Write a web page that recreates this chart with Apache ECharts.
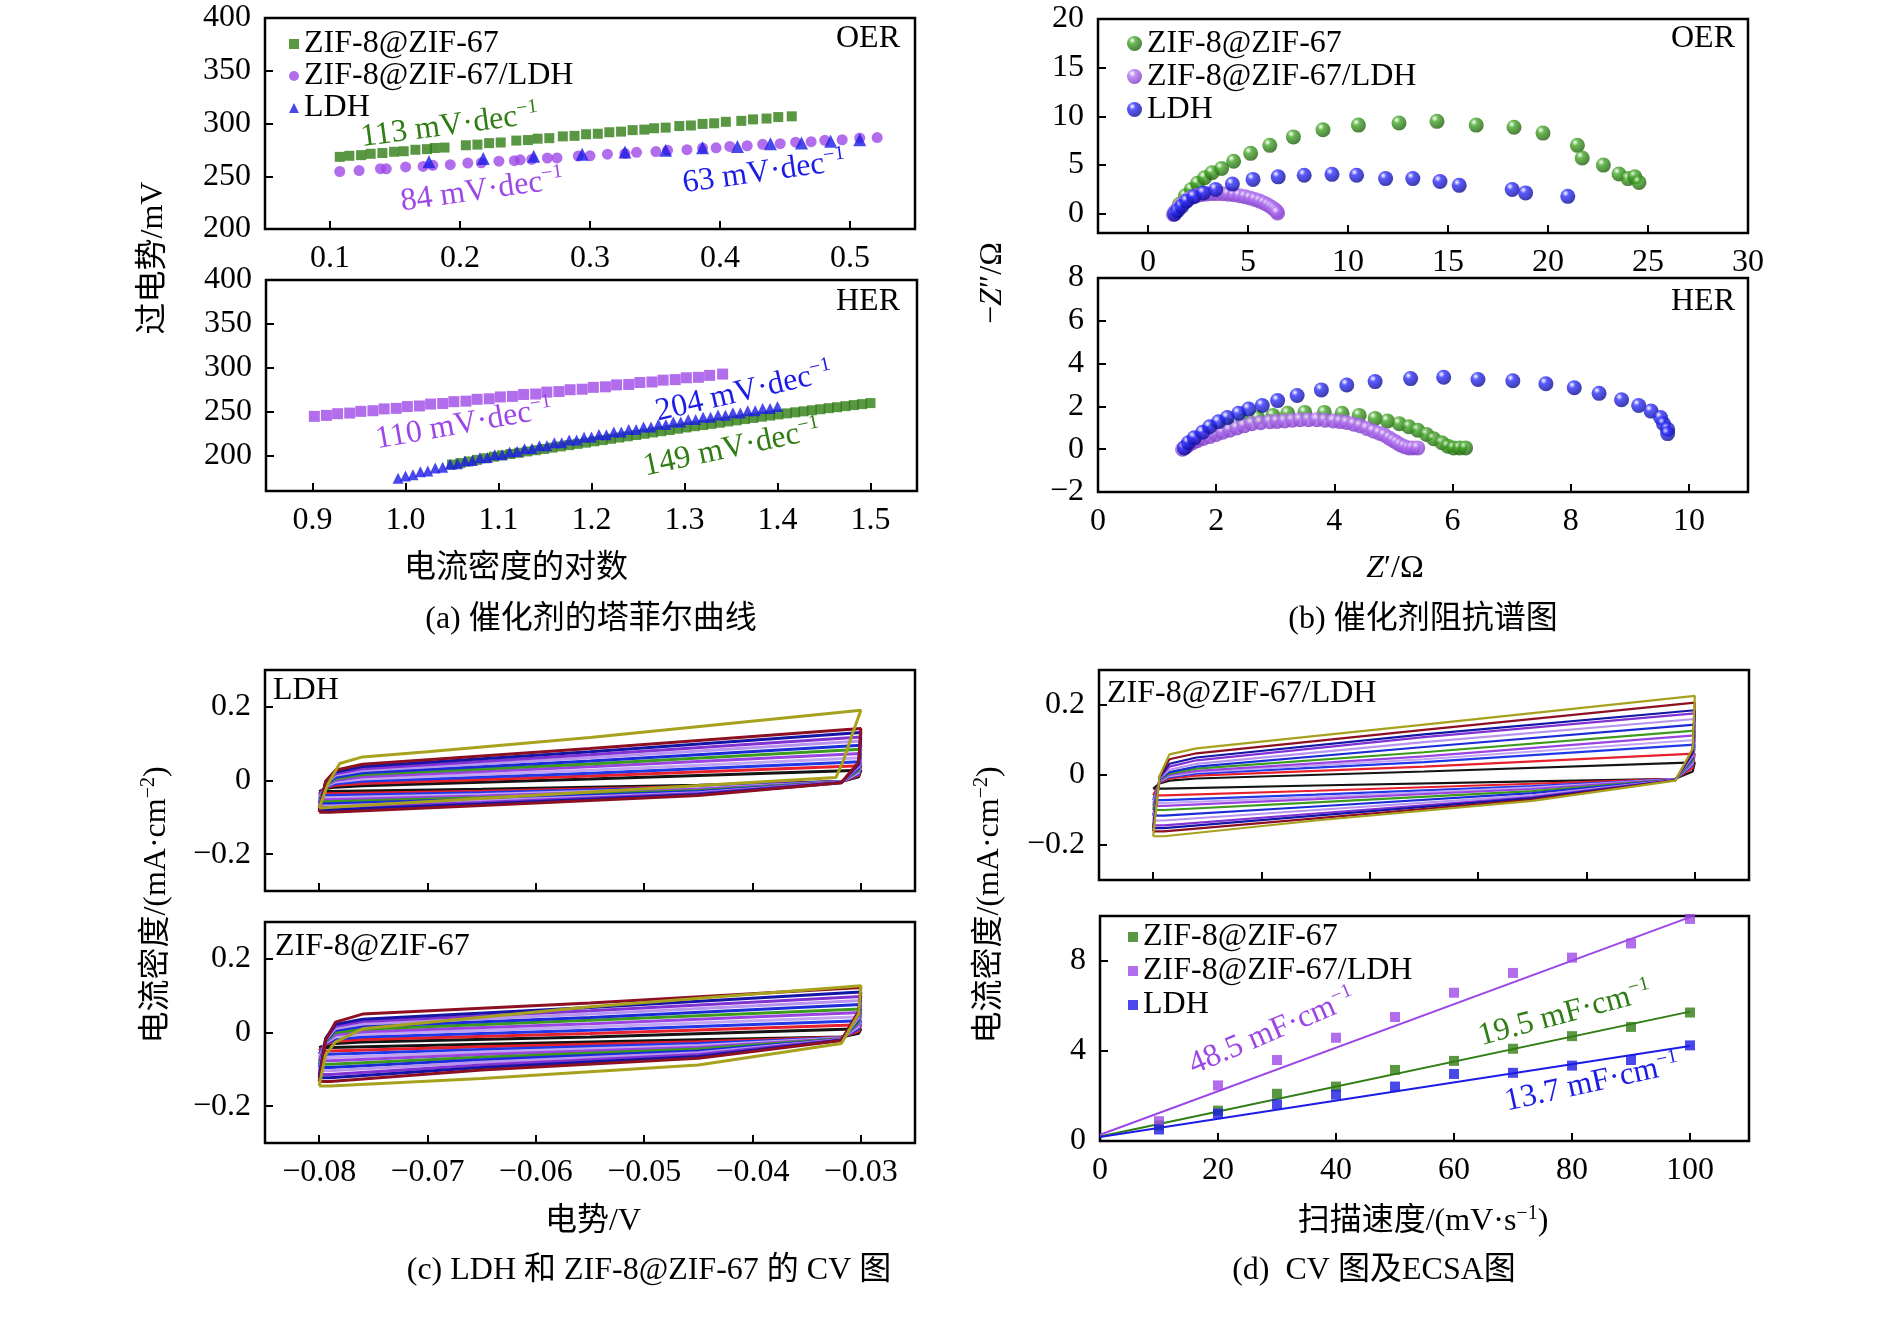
<!DOCTYPE html>
<html lang="zh">
<head>
<meta charset="UTF-8" />
<title>催化剂性能</title>
<style>
html, body { margin: 0; padding: 0; background: #fff; }
#main { width: 1890px; height: 1329px; }
</style>
</head>
<body>
<div id="main"></div>
<script src="https://cdn.jsdelivr.net/npm/echarts@6.0.0/dist/echarts.min.js"></script>
<script>
// ---- (a) 塔菲尔曲线 OER
var oerZifX = [0.1075,0.1149,0.1239,0.1313,0.1403,0.1493,0.1567,0.1657,0.1746,0.1806,0.1881,0.2045,0.2134,0.2224,0.2313,0.2433,0.2522,0.2597,0.2687,0.2791,0.2881,0.2970,0.3060,0.3149,0.3239,0.3328,0.3418,0.3493,0.3582,0.3687,0.3776,0.3866,0.3955,0.4045,0.4164,0.4254,0.4358,0.4448,0.4552];
var oerZifY = [268.4,269.4,270.0,271.3,272.0,273.2,273.7,275.1,275.7,276.8,277.2,279.4,280.0,281.4,282.0,283.8,284.3,285.6,286.1,287.8,288.3,289.8,290.3,291.7,292.3,293.7,294.2,295.5,296.1,297.6,298.1,299.6,300.2,301.6,302.5,303.9,304.7,306.1,306.8];
var oerHybX = [0.1075,0.1224,0.1388,0.1433,0.1582,0.1716,0.1791,0.1925,0.2060,0.2164,0.2299,0.2418,0.2463,0.2552,0.2672,0.2746,0.2910,0.3000,0.3134,0.3269,0.3358,0.3507,0.3597,0.3746,0.3866,0.3970,0.4075,0.4209,0.4328,0.4463,0.4582,0.4701,0.4806,0.4940,0.5075,0.5209];
var oerHybY = [254.5,255.4,257.2,257.0,258.8,259.3,260.4,261.0,262.5,262.8,264.3,264.8,265.6,265.9,267.3,267.4,269.2,269.4,270.9,271.5,272.7,273.4,274.6,275.2,276.7,277.0,278.3,278.9,280.3,280.9,282.3,282.8,284.1,284.6,286.2,286.7];
var oerLdhX = [0.1761,0.2179,0.2567,0.2940,0.3269,0.3582,0.3866,0.4134,0.4388,0.4627,0.4851,0.5075];
var oerLdhY = [263.8,266.9,269.0,270.9,273.0,274.6,277.1,278.3,280.8,281.4,283.2,284.5];

// ---- (a) 塔菲尔曲线 HER
var herHybX = [0.902,0.915,0.927,0.940,0.952,0.965,0.977,0.990,1.002,1.015,1.027,1.040,1.052,1.065,1.077,1.090,1.102,1.115,1.127,1.140,1.152,1.165,1.177,1.190,1.202,1.215,1.227,1.240,1.252,1.265,1.277,1.290,1.302,1.315,1.327,1.341];
var herHybY = [244.9,246.0,247.9,248.6,250.6,251.3,253.4,254.0,256.0,256.7,258.9,259.5,261.6,262.2,264.3,264.9,267.0,267.6,269.8,270.3,272.5,273.1,275.2,275.8,277.9,278.5,280.7,281.2,283.4,284.0,286.1,286.7,288.8,289.3,291.5,293.0];
var herLdhX = [0.992,1.000,1.008,1.016,1.024,1.032,1.040,1.048,1.056,1.064,1.072,1.080,1.088,1.096,1.104,1.112,1.120,1.128,1.136,1.144,1.152,1.160,1.168,1.176,1.184,1.192,1.200,1.208,1.216,1.224,1.232,1.240,1.248,1.256,1.264,1.272,1.280,1.288,1.296,1.304,1.312,1.320,1.328,1.336,1.344,1.352,1.360,1.368,1.376,1.384,1.392,1.400];
var herLdhY = [174.5,177.2,178.6,181.9,182.8,186.3,187.0,190.4,191.0,194.1,194.6,197.9,198.1,201.3,201.2,204.4,204.8,208.0,208.2,211.5,211.6,214.9,214.9,218.1,218.1,221.2,221.3,224.2,224.1,227.1,227.0,230.0,230.0,232.9,232.8,235.8,235.7,238.6,238.5,241.4,241.2,243.9,243.8,246.5,246.3,249.0,248.8,251.4,251.3,253.8,253.7,256.0];
var herZifX = [1.050,1.059,1.068,1.077,1.086,1.095,1.104,1.113,1.122,1.131,1.140,1.149,1.158,1.167,1.176,1.185,1.194,1.203,1.212,1.221,1.230,1.239,1.248,1.257,1.266,1.275,1.284,1.293,1.302,1.311,1.320,1.329,1.338,1.347,1.356,1.365,1.374,1.383,1.392,1.401,1.410,1.419,1.428,1.437,1.446,1.455,1.464,1.473,1.482,1.491,1.500];
var herZifY = [190.0,191.8,193.6,195.4,197.2,199.0,200.6,202.1,203.5,205.0,206.4,207.8,209.3,210.7,212.2,213.6,215.0,216.5,217.9,219.4,220.8,222.2,223.7,225.1,226.6,228.0,229.4,230.9,232.3,233.7,235.0,236.4,237.7,239.1,240.4,241.8,243.1,244.5,245.8,247.1,248.3,249.5,250.6,251.8,253.0,254.2,255.3,256.5,257.7,258.8,260.0];

// ---- (b) 阻抗谱 OER
var nyoZifX = [1.33,1.57,1.87,2.17,2.47,2.83,3.20,3.68,4.28,5.13,6.09,7.27,8.75,10.52,12.55,14.45,16.41,18.30,19.75,21.47,21.71,22.77,23.55,24.00,24.34,24.55];
var nyoZifY = [0.09,0.95,1.82,2.47,3.12,3.68,4.20,4.63,5.37,6.19,7.01,7.88,8.61,9.09,9.31,9.48,9.09,8.87,8.27,7.01,5.71,4.98,4.07,3.59,3.77,3.20];
var nyoHybX = [1.27,1.40,1.55,1.72,1.88,2.05,2.25,2.45,2.68,2.92,3.18,3.45,3.74,4.02,4.30,4.58,4.85,5.10,5.35,5.58,5.80,6.00,6.17,6.31,6.42,6.48];
var nyoHybY = [-0.10,0.30,0.65,1.00,1.28,1.52,1.72,1.86,1.96,2.02,2.05,2.05,2.03,1.99,1.93,1.84,1.73,1.60,1.45,1.28,1.09,0.88,0.66,0.45,0.25,0.05];
var nyoLdhX = [1.33,1.48,1.69,1.93,2.29,2.77,3.38,4.22,5.25,6.51,7.81,9.20,10.43,11.88,13.24,14.60,15.56,18.21,18.88,20.99];
var nyoLdhY = [-0.04,0.30,0.74,1.26,1.73,2.12,2.47,3.03,3.51,3.77,3.94,4.03,3.94,3.59,3.59,3.29,2.90,2.47,2.12,1.77];

// ---- (b) 阻抗谱 HER
var nyhZifX = [1.48,1.68,1.94,2.19,2.45,2.70,2.96,3.21,3.50,3.83,4.13,4.42,4.69,4.90,5.10,5.26,5.41,5.56,5.68,5.82,5.92,6.02,6.12,6.22];
var nyhZifY = [0.10,0.49,0.85,1.13,1.32,1.48,1.58,1.68,1.72,1.72,1.68,1.58,1.44,1.32,1.19,1.05,0.89,0.69,0.49,0.30,0.14,0.06,0.06,0.06];
var nyhHybX = [1.43,1.48,1.53,1.60,1.68,1.78,1.89,2.00,2.11,2.23,2.35,2.47,2.60,2.75,2.91,3.03,3.16,3.29,3.42,3.56,3.70,3.84,3.98,4.10,4.21,4.33,4.44,4.55,4.66,4.76,4.85,4.93,5.00,5.06,5.12,5.19,5.26,5.33,5.41];
var nyhHybY = [0.00,0.10,0.20,0.30,0.40,0.50,0.59,0.69,0.79,0.89,0.99,1.09,1.19,1.24,1.28,1.30,1.32,1.35,1.38,1.38,1.38,1.35,1.32,1.29,1.25,1.17,1.09,0.97,0.85,0.75,0.65,0.52,0.40,0.30,0.20,0.12,0.06,0.06,0.06];
var nyhLdhX = [1.46,1.53,1.63,1.77,1.89,2.04,2.19,2.38,2.55,2.78,3.04,3.37,3.78,4.21,4.69,5.29,5.85,6.43,7.02,7.58,8.06,8.48,8.86,9.15,9.36,9.52,9.57,9.64,9.64];
var nyhLdhY = [0.06,0.30,0.53,0.79,1.05,1.28,1.48,1.68,1.88,2.04,2.27,2.51,2.77,3.00,3.16,3.30,3.36,3.26,3.20,3.06,2.87,2.61,2.31,2.04,1.78,1.48,1.19,0.93,0.73];

// ---- (c)(d) CV 曲线：每条回线按同一组电势顶点取值
var cvX = [-0.0800,-0.0794,-0.0785,-0.0760,-0.0550,-0.0300,-0.0302,-0.0318,-0.0450,-0.0650,-0.0790,-0.0800];
var cvColors = ['#141414','#e8202c','#2038e8','#c2a4f2','#9a44e2','#3c9a1c','#1a2cd8','#b894ee','#8232d2','#1414a6','#8c1022','#a6a21e'];
var ldhLoops = [
  [-0.030,-0.022,-0.018,-0.014,0.004,0.028,0.010,-0.003,-0.013,-0.024,-0.030,-0.030],
  [-0.036,-0.020,-0.013,-0.008,0.012,0.040,0.014,-0.003,-0.016,-0.029,-0.036,-0.036],
  [-0.041,-0.018,-0.009,-0.002,0.020,0.051,0.018,-0.003,-0.018,-0.033,-0.041,-0.041],
  [-0.047,-0.016,-0.004,0.004,0.028,0.062,0.022,-0.004,-0.021,-0.038,-0.047,-0.047],
  [-0.052,-0.014,0.000,0.010,0.037,0.073,0.026,-0.004,-0.024,-0.042,-0.052,-0.052],
  [-0.058,-0.012,0.005,0.016,0.045,0.085,0.030,-0.004,-0.027,-0.047,-0.058,-0.058],
  [-0.063,-0.010,0.009,0.021,0.053,0.096,0.034,-0.005,-0.030,-0.051,-0.063,-0.063],
  [-0.069,-0.008,0.014,0.027,0.062,0.107,0.038,-0.005,-0.033,-0.055,-0.069,-0.069],
  [-0.074,-0.006,0.018,0.032,0.070,0.118,0.042,-0.005,-0.035,-0.060,-0.074,-0.074],
  [-0.080,-0.004,0.023,0.038,0.078,0.130,0.046,-0.006,-0.038,-0.064,-0.080,-0.080],
  [-0.086,-0.002,0.028,0.044,0.087,0.141,0.050,-0.006,-0.041,-0.068,-0.086,-0.086]
];
var ldhOliveX = [-0.0800,-0.0792,-0.0781,-0.0760,-0.0700,-0.0550,-0.0300,-0.0308,-0.0316,-0.0323,-0.0430,-0.0600,-0.0750,-0.0800];
var ldhOliveY = [-0.075,-0.010,0.046,0.064,0.078,0.117,0.191,0.125,0.055,0.008,-0.010,-0.040,-0.066,-0.075];
var zifLoops = [
  [-0.041,-0.034,-0.030,-0.026,-0.012,0.010,-0.002,-0.012,-0.020,-0.032,-0.041,-0.041],
  [-0.050,-0.032,-0.024,-0.019,-0.003,0.021,0.004,-0.013,-0.025,-0.039,-0.050,-0.050],
  [-0.059,-0.030,-0.018,-0.012,0.006,0.032,0.010,-0.014,-0.030,-0.046,-0.059,-0.059],
  [-0.068,-0.028,-0.012,-0.005,0.015,0.043,0.016,-0.015,-0.035,-0.053,-0.068,-0.068],
  [-0.077,-0.026,-0.006,0.002,0.024,0.054,0.022,-0.016,-0.040,-0.060,-0.077,-0.077],
  [-0.086,-0.024,0.000,0.009,0.033,0.064,0.028,-0.017,-0.045,-0.067,-0.086,-0.086],
  [-0.095,-0.022,0.006,0.016,0.041,0.076,0.034,-0.018,-0.050,-0.074,-0.095,-0.095],
  [-0.104,-0.020,0.011,0.023,0.050,0.087,0.040,-0.019,-0.055,-0.081,-0.104,-0.104],
  [-0.114,-0.018,0.017,0.030,0.059,0.098,0.046,-0.020,-0.060,-0.088,-0.114,-0.114],
  [-0.123,-0.016,0.022,0.036,0.068,0.110,0.052,-0.021,-0.065,-0.095,-0.123,-0.123],
  [-0.133,-0.020,0.028,0.050,0.080,0.122,0.058,-0.022,-0.070,-0.102,-0.133,-0.133],
  [-0.145,-0.060,-0.026,0.010,0.070,0.127,0.050,-0.030,-0.088,-0.125,-0.145,-0.145]
];
var hybLoops = [
  [-0.039,-0.024,-0.016,-0.010,0.010,0.036,0.010,-0.011,-0.018,-0.030,-0.039,-0.039],
  [-0.058,-0.022,-0.010,-0.002,0.024,0.061,0.020,-0.011,-0.025,-0.045,-0.058,-0.058],
  [-0.072,-0.020,-0.006,0.004,0.037,0.087,0.028,-0.012,-0.032,-0.056,-0.072,-0.072],
  [-0.080,-0.018,-0.003,0.008,0.045,0.100,0.032,-0.012,-0.036,-0.063,-0.080,-0.080],
  [-0.088,-0.016,0.000,0.012,0.053,0.113,0.036,-0.012,-0.040,-0.069,-0.088,-0.088],
  [-0.100,-0.014,0.004,0.018,0.065,0.127,0.042,-0.013,-0.046,-0.078,-0.100,-0.100],
  [-0.116,-0.012,0.008,0.024,0.080,0.144,0.048,-0.013,-0.052,-0.090,-0.116,-0.116],
  [-0.130,-0.010,0.015,0.032,0.094,0.160,0.054,-0.014,-0.058,-0.100,-0.130,-0.130],
  [-0.144,-0.008,0.024,0.042,0.108,0.176,0.060,-0.014,-0.063,-0.110,-0.144,-0.144],
  [-0.152,-0.006,0.032,0.050,0.116,0.185,0.064,-0.015,-0.066,-0.116,-0.152,-0.152],
  [-0.161,-0.004,0.045,0.062,0.129,0.207,0.070,-0.015,-0.070,-0.124,-0.161,-0.161],
  [-0.175,-0.002,0.059,0.076,0.144,0.226,0.076,-0.016,-0.074,-0.130,-0.175,-0.175]
];

// ---- (d) ECSA
var scanRate = [10,20,30,40,50,60,70,80,90,100];
var ecsaZif = [0.69,1.35,2.10,2.42,3.16,3.56,4.10,4.66,5.07,5.71];
var ecsaHyb = [0.88,2.47,3.60,4.59,5.51,6.59,7.47,8.15,8.78,9.87];
var ecsaLdh = [0.51,1.22,1.63,2.06,2.42,2.98,3.03,3.35,3.60,4.25];
var fitX = [0, 100];
var fitZif = [0.20, 5.75];
var fitHyb = [0.28, 9.95];
var fitLdh = [0.18, 4.22];

// ---- 斜率标注
var noteText = ['113 mV·dec','84 mV·dec','63 mV·dec','110 mV·dec','204 mV·dec','149 mV·dec','48.5 mF·cm','19.5 mF·cm','13.7 mF·cm'];
var noteGrid = [0,0,0,1,1,1,7,7,7];
var noteX = [0.192,0.217,0.434,1.063,1.364,1.351,29.2,78.8,83.4];
var noteY = [297.6,236.2,253.5,235.7,272.5,208.4,4.85,5.64,2.57];
var noteAngle = [7.5,8,8,10,13,12,23,15,12.4];

var FONT = "'Liberation Serif','Noto Sans CJK SC',serif";
var GREEN = '#2f7d14', PURPLE = '#9d48e6', BLUE = '#1c1ce6';
var noteColor = [GREEN,PURPLE,BLUE,PURPLE,BLUE,GREEN,PURPLE,GREEN,BLUE];

function pairs(xs, ys) {
  return xs.map(function (x, i) { return [x, ys[i]]; });
}
function minus(d) {
  return function (v) {
    var s = d == null ? String(Math.abs(v)) : Math.abs(v).toFixed(d);
    return (v < 0 ? '−' : '') + s;
  };
}
function ball(c1, c2) {
  return { type: 'radial', x: 0.35, y: 0.3, r: 0.75,
    colorStops: [{ offset: 0, color: '#ffffff' }, { offset: 0.3, color: c1 }, { offset: 1, color: c2 }] };
}
var GBALL = ball('#45a828', '#1d5a0c'), PBALL = ball('#b476f2', '#7a36c2'), BBALL = ball('#3030ff', '#0a0a8c');

function axis(g, min, max, ticks, labels, fmt) {
  return {
    type: 'value', gridIndex: g, min: min, max: max,
    axisLine: { show: false, onZero: false }, splitLine: { show: false },
    axisTick: { show: true, inside: true, length: 8, lineStyle: { color: '#000', width: 2 }, customValues: ticks },
    axisLabel: { show: !!labels, customValues: labels || [], fontSize: 32, fontFamily: FONT, color: '#000',
      margin: 14, formatter: fmt || minus() }
  };
}
function grid(l, t, w, h) {
  return { left: l, top: t, width: w, height: h, show: true, borderColor: '#000', borderWidth: 2.5, backgroundColor: 'transparent' };
}
function sc(name, g, xs, ys, symbol, size, color, z) {
  return { type: 'scatter', name: name, xAxisIndex: g, yAxisIndex: g, symbol: symbol, symbolSize: size,
    itemStyle: { color: color }, data: pairs(xs, ys), z: z || 2, silent: true };
}
function loopSeries(g, loops, width) {
  return loops.map(function (ys, i) {
    return { type: 'line', xAxisIndex: g, yAxisIndex: g, data: pairs(cvX, ys), symbol: 'none',
      lineStyle: { color: cvColors[i], width: width }, z: 2 + i * 0.01, silent: true };
  });
}
function legend(left, top, gap, size, items) {
  return { left: left, top: top, orient: 'vertical', itemWidth: size, itemHeight: size, itemGap: 0,
    selectedMode: false, textStyle: { fontSize: 32, lineHeight: gap, fontFamily: FONT, color: '#000' },
    data: items.map(function (it) { return { name: it[0], icon: it[1], itemStyle: { color: it[2] } }; }) };
}
function txt(id, x, y, text, o) {
  o = o || {};
  return { type: 'text', id: id, x: x, y: y, rotation: o.rot || 0, silent: true,
    style: { text: text, fontSize: 32, fontFamily: FONT, fill: o.color || '#000', align: o.align || 'center',
      verticalAlign: 'middle', lineHeight: 36,
      rich: { i: { fontStyle: 'italic', fontSize: 32, fontFamily: FONT },
              sup: { fontSize: 20, fontFamily: FONT, verticalAlign: 'top', lineHeight: 20 } } } };
}

var series = [
  sc('ZIF-8@ZIF-67', 0, oerZifX, oerZifY, 'rect', 10, GREEN),
  sc('ZIF-8@ZIF-67/LDH', 0, oerHybX, oerHybY, 'circle', 11, PURPLE),
  sc('LDH', 0, oerLdhX, oerLdhY, 'triangle', 13, BLUE, 3),
  sc('ZIF-8@ZIF-67', 1, herZifX, herZifY, 'rect', 10, GREEN),
  sc('LDH', 1, herLdhX, herLdhY, 'triangle', 11, BLUE, 3),
  sc('ZIF-8@ZIF-67/LDH', 1, herHybX, herHybY, 'rect', 11, PURPLE),
  sc('ZIF-8@ZIF-67', 2, nyoZifX, nyoZifY, 'circle', 15, GBALL),
  sc('ZIF-8@ZIF-67/LDH', 2, nyoHybX, nyoHybY, 'circle', 15, PBALL, 3),
  sc('LDH', 2, nyoLdhX, nyoLdhY, 'circle', 15, BBALL, 4),
  sc('ZIF-8@ZIF-67', 3, nyhZifX, nyhZifY, 'circle', 15, GBALL),
  sc('ZIF-8@ZIF-67/LDH', 3, nyhHybX, nyhHybY, 'circle', 15, PBALL, 3),
  sc('LDH', 3, nyhLdhX, nyhLdhY, 'circle', 15, BBALL, 4)
];
series = series.concat(loopSeries(4, ldhLoops, 3));
series.push({ type: 'line', xAxisIndex: 4, yAxisIndex: 4, data: pairs(ldhOliveX, ldhOliveY), symbol: 'none',
  lineStyle: { color: cvColors[11], width: 3 }, z: 3, silent: true });
series = series.concat(loopSeries(5, zifLoops, 3));
series = series.concat(loopSeries(6, hybLoops, 2.2));
series.push(
  { type: 'line', xAxisIndex: 7, yAxisIndex: 7, data: pairs(fitX, fitZif), symbol: 'none', lineStyle: { color: GREEN, width: 2 }, silent: true },
  { type: 'line', xAxisIndex: 7, yAxisIndex: 7, data: pairs(fitX, fitHyb), symbol: 'none', lineStyle: { color: PURPLE, width: 2 }, silent: true },
  { type: 'line', xAxisIndex: 7, yAxisIndex: 7, data: pairs(fitX, fitLdh), symbol: 'none', lineStyle: { color: BLUE, width: 2 }, silent: true },
  sc('ZIF-8@ZIF-67', 7, scanRate, ecsaZif, 'rect', 10, GREEN, 3),
  sc('ZIF-8@ZIF-67/LDH', 7, scanRate, ecsaHyb, 'rect', 10, PURPLE, 3),
  sc('LDH', 7, scanRate, ecsaLdh, 'rect', 10, BLUE, 3)
);

var cvTicks = [-0.08,-0.07,-0.06,-0.05,-0.04,-0.03];
var option = {
  backgroundColor: '#fff',
  animation: false,
  grid: [
    grid(265, 18, 650, 211), grid(266, 280, 651, 211),
    grid(1098, 19, 650, 214), grid(1098, 278, 650, 214),
    grid(265, 670, 650, 221), grid(265, 922, 650, 221),
    grid(1099, 670, 650, 210), grid(1100, 916, 649, 225)
  ],
  xAxis: [
    axis(0, 0.05, 0.55, [0.1,0.2,0.3,0.4,0.5], [0.1,0.2,0.3,0.4,0.5]),
    axis(1, 0.85, 1.55, [0.9,1.0,1.1,1.2,1.3,1.4,1.5], [0.9,1.0,1.1,1.2,1.3,1.4,1.5], minus(1)),
    axis(2, -2.5, 30, [0,5,10,15,20,25], [0,5,10,15,20,25,30]),
    axis(3, 0, 11, [2,4,6,8,10], [0,2,4,6,8,10]),
    axis(4, -0.085, -0.025, cvTicks, null),
    axis(5, -0.085, -0.025, cvTicks, cvTicks, minus(2)),
    axis(6, -0.085, -0.025, cvTicks, null),
    axis(7, 0, 110, [20,40,60,80,100], [0,20,40,60,80,100])
  ],
  yAxis: [
    axis(0, 200, 400, [250,300,350], [200,250,300,350,400]),
    axis(1, 160, 400, [200,250,300,350], [200,250,300,350,400]),
    axis(2, -2, 20, [0,5,10,15], [0,5,10,15,20]),
    axis(3, -2, 8, [0,2,4,6], [-2,0,2,4,6,8]),
    axis(4, -0.3, 0.3, [-0.2,0,0.2], [-0.2,0,0.2]),
    axis(5, -0.3, 0.3, [-0.2,0,0.2], [-0.2,0,0.2]),
    axis(6, -0.3, 0.3, [-0.2,0,0.2], [-0.2,0,0.2]),
    axis(7, 0, 10, [4,8], [0,4,8])
  ],
  legend: [
    legend(284, 23, 32, 10, [['ZIF-8@ZIF-67','rect',GREEN],['ZIF-8@ZIF-67/LDH','circle',PURPLE],['LDH','triangle',BLUE]]),
    legend(1122, 22, 33, 15, [['ZIF-8@ZIF-67','circle',GBALL],['ZIF-8@ZIF-67/LDH','circle',PBALL],['LDH','circle',BBALL]]),
    legend(1123, 915, 34, 10, [['ZIF-8@ZIF-67','rect',GREEN],['ZIF-8@ZIF-67/LDH','rect',PURPLE],['LDH','rect',BLUE]])
  ],
  series: series,
  graphic: [
    txt('t1', 154, 258, '过电势/mV', { rot: Math.PI / 2 }),
    txt('t2', 516, 569, '电流密度的对数'),
    txt('t3', 591, 620, '(a) 催化剂的塔菲尔曲线'),
    txt('t4', 993, 283, '−{i|Z}″/Ω', { rot: Math.PI / 2 }),
    txt('t5', 1395, 569, '{i|Z}′/Ω'),
    txt('t6', 1423, 620, '(b) 催化剂阻抗谱图'),
    txt('t7', 157, 905, '电流密度/(mA·cm{sup|−2})', { rot: Math.PI / 2 }),
    txt('t8', 990, 905, '电流密度/(mA·cm{sup|−2})', { rot: Math.PI / 2 }),
    txt('t9', 593, 1222, '电势/V'),
    txt('t10', 649, 1271, '(c) LDH 和 ZIF-8@ZIF-67 的 CV 图'),
    txt('t11', 1423, 1222, '扫描速度/(mV·s{sup|−1})'),
    txt('t12', 1374, 1271, '(d)  CV 图及ECSA图'),
    txt('p1', 900, 39, 'OER', { align: 'right' }),
    txt('p2', 900, 302, 'HER', { align: 'right' }),
    txt('p3', 1735, 39, 'OER', { align: 'right' }),
    txt('p4', 1735, 302, 'HER', { align: 'right' }),
    txt('p5', 273, 691, 'LDH', { align: 'left' }),
    txt('p6', 275, 947, 'ZIF-8@ZIF-67', { align: 'left' }),
    txt('p7', 1107, 694, 'ZIF-8@ZIF-67/LDH', { align: 'left' })
  ]
};

var chart = echarts.init(document.getElementById('main'));
chart.setOption(option);

// 斜率标注放在数据坐标处
var notes = noteText.map(function (t, i) {
  var p = chart.convertToPixel({ gridIndex: noteGrid[i] }, [noteX[i], noteY[i]]);
  return txt('n' + i, p[0], p[1], t + '{sup|−1}', { color: noteColor[i], rot: noteAngle[i] * Math.PI / 180 });
});
chart.setOption({ graphic: notes });
</script>
</body>
</html>
